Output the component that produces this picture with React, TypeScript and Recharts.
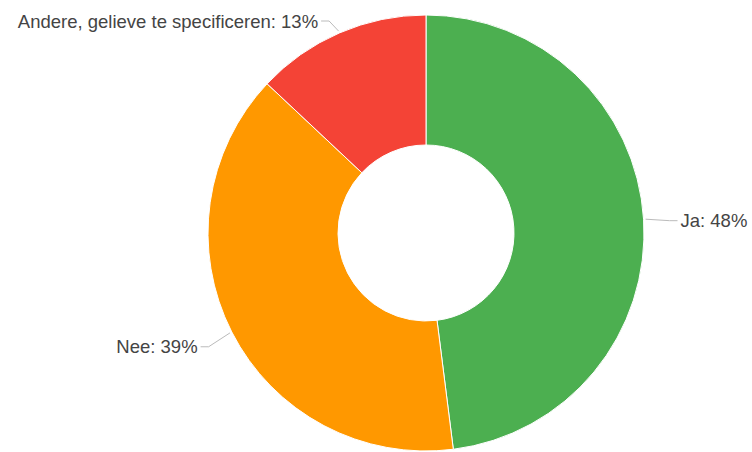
import React from 'react';
import { PieChart, Pie, Cell } from 'recharts';

const labels = ['Ja', 'Nee', 'Andere, gelieve te specificeren'];
const values = [48, 39, 13];
const colors = ['#4caf50', '#ff9800', '#f44336'];

const data = labels.map((name, i) => ({ name, value: values[i] }));

const RADIAN = Math.PI / 180;

const renderLabel = (props: any) => {
  const { cx, cy, midAngle, outerRadius, name, value } = props;
  const cos = Math.cos(-midAngle * RADIAN);
  const sin = Math.sin(-midAngle * RADIAN);
  const sx = cx + (outerRadius + 2) * cos;
  const sy = cy + (outerRadius + 2) * sin;
  const ex = cx + (outerRadius + 26) * cos;
  let ey = cy + (outerRadius + 26) * sin + 3;
  if (ey < 21) ey = 21;
  const right = cos >= 0;
  const hx = ex + (right ? 8 : -8);
  const tx = hx + (right ? 3 : -3);
  return (
    <g>
      <path d={`M${sx},${sy}L${ex},${ey}L${hx},${ey}`} stroke="#bbb" fill="none" strokeWidth={1} />
      <text
        x={tx}
        y={ey}
        textAnchor={right ? 'start' : 'end'}
        dominantBaseline="central"
        fill="#444"
        fontSize={18.5}
        fontFamily="'Liberation Sans', Arial, sans-serif"
      >
        {`${name}: ${value}%`}
      </text>
    </g>
  );
};

export default function App() {
  return (
    <div style={{ position: 'fixed', left: 0, top: 0, width: 752, height: 452, background: '#fff' }}>
      <PieChart width={752} height={452} margin={{ top: 0, right: 0, bottom: 0, left: 0 }}>
        <Pie
          data={data}
          dataKey="value"
          nameKey="name"
          cx={426}
          cy={233}
          innerRadius={88}
          outerRadius={218}
          startAngle={90}
          endAngle={-270}
          stroke="#fff"
          strokeWidth={1}
          label={renderLabel}
          labelLine={false}
          isAnimationActive={false}
        >
          {data.map((d, i) => (
            <Cell key={d.name} fill={colors[i]} />
          ))}
        </Pie>
      </PieChart>
    </div>
  );
}
